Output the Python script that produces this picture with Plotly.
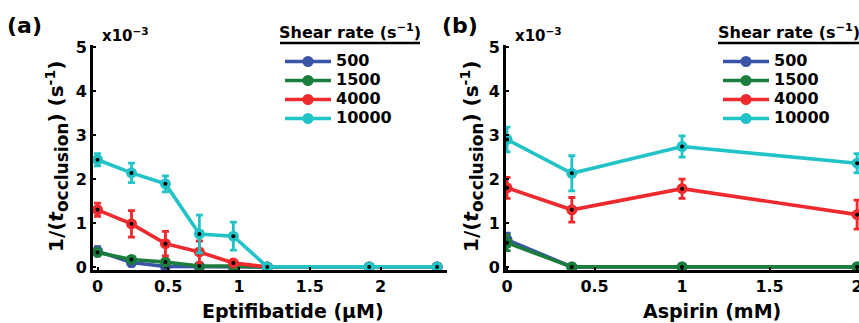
import plotly.graph_objects as go

W, H = 859, 323

# ---------------- data ----------------
series_names = ["500", "1500", "4000", "10000"]
series_colors = ["#3a55a8", "#1b7d3c", "#ee2a2e", "#22c3c6"]

# Panel (a): Eptifibatide (uM)
epti_x = [0, 0.24, 0.48, 0.72, 0.96, 1.2, 1.92, 2.4]
epti_500 = [0.36, 0.10, 0.01, 0.0, 0.0, 0.0, 0.0, 0.0]
epti_500_err = [0.10, 0.08, 0.0, 0.0, 0.0, 0.0, 0.0, 0.0]
epti_1500 = [0.33, 0.17, 0.11, 0.02, 0.02, 0.0, 0.0, 0.0]
epti_1500_err = [0.08, 0.06, 0.04, 0.0, 0.0, 0.0, 0.0, 0.0]
epti_4000 = [1.30, 0.98, 0.53, 0.34, 0.09, 0.0, 0.0, 0.0]
epti_4000_err = [0.15, 0.30, 0.28, 0.25, 0.05, 0.0, 0.0, 0.0]
epti_10000 = [2.44, 2.14, 1.89, 0.75, 0.70, 0.0, 0.0, 0.0]
epti_10000_err = [0.14, 0.22, 0.18, 0.43, 0.32, 0.0, 0.0, 0.0]

# Panel (b): Aspirin (mM)
asp_x = [0, 0.37, 1, 2]
asp_500 = [0.62, 0.0, 0.0, 0.0]
asp_500_err = [0.15, 0.0, 0.0, 0.0]
asp_1500 = [0.55, 0.0, 0.0, 0.0]
asp_1500_err = [0.18, 0.0, 0.0, 0.0]
asp_4000 = [1.80, 1.30, 1.78, 1.19]
asp_4000_err = [0.24, 0.28, 0.22, 0.33]
asp_10000 = [2.90, 2.13, 2.74, 2.36]
asp_10000_err = [0.28, 0.40, 0.24, 0.22]

y_ticks = [0, 1, 2, 3, 4, 5]
epti_ticks = [0, 0.5, 1, 1.5, 2, 2.5]
epti_ticklabels = ["0", "0.5", "1", "1.5", "2", "2.5"]
asp_ticks = [0, 0.5, 1, 1.5, 2]
asp_ticklabels = ["0", "0.5", "1", "1.5", "2"]

FONT = "DejaVu Sans, Liberation Sans, Arial, sans-serif"

fig = go.Figure()

panels = [
    ("x", "y", epti_x,
     [epti_500, epti_1500, epti_4000, epti_10000],
     [epti_500_err, epti_1500_err, epti_4000_err, epti_10000_err], "legend"),
    ("x2", "y2", asp_x,
     [asp_500, asp_1500, asp_4000, asp_10000],
     [asp_500_err, asp_1500_err, asp_4000_err, asp_10000_err], "legend2"),
]

for xa, ya, xs, ys_list, errs, leg in panels:
    for name, col, ys, er in zip(series_names, series_colors, ys_list, errs):
        fig.add_trace(go.Scatter(
            x=xs, y=ys, xaxis=xa, yaxis=ya, mode="lines+markers",
            name="<span style='font-size:16px'>%s</span>" % name,
            legend=leg,
            line=dict(color=col, width=3.6),
            marker=dict(size=11, color=col, line=dict(width=0)),
            error_y=dict(type="data", array=er, visible=True, color=col,
                         thickness=2.8, width=3.5),
            cliponaxis=True,
        ))
        fig.add_trace(go.Scatter(
            x=xs, y=ys, xaxis=xa, yaxis=ya, mode="markers",
            marker=dict(size=4, color="black"), showlegend=False,
            hoverinfo="skip",
        ))


def px(x):
    return x / W


def py(y):
    return 1 - y / H


axis_common = dict(
    showline=True, linecolor="black", linewidth=3, showgrid=False,
    zeroline=False, ticks="inside", ticklen=3, tickwidth=2, tickcolor="black",
    tickfont=dict(family=FONT, size=16, color="black", weight="bold"),
    mirror=False, automargin=False, ticklabeloverflow="allow",
)

fig.update_layout(
    width=W, height=H,
    margin=dict(l=0, r=0, t=0, b=0, autoexpand=False),
    paper_bgcolor="white", plot_bgcolor="white",
    font=dict(family=FONT, color="black", weight="bold"),
    xaxis=dict(domain=[px(93), px(447)], range=[-0.032, 2.47], anchor="y",
               tickvals=epti_ticks, ticktext=epti_ticklabels, **axis_common),
    yaxis=dict(domain=[py(270), py(45)], range=[-0.07, 5.05], anchor="x",
               tickvals=y_ticks, **axis_common),
    xaxis2=dict(domain=[px(506), 1.0], range=[-0.006, 2.011], anchor="y2",
                tickvals=asp_ticks, ticktext=asp_ticklabels, **axis_common),
    yaxis2=dict(domain=[py(270), py(45)], range=[-0.07, 5.05], anchor="x2",
                tickvals=y_ticks, **axis_common),
    legend=dict(x=px(280), y=py(47), xanchor="left", yanchor="top",
                bgcolor="rgba(0,0,0,0)", font=dict(family=FONT, size=12, weight="bold"),
                itemwidth=46, tracegroupgap=0),
    legend2=dict(x=px(718), y=py(47), xanchor="left", yanchor="top",
                 bgcolor="rgba(0,0,0,0)", font=dict(family=FONT, size=12, weight="bold"),
                 itemwidth=46, tracegroupgap=0),
    showlegend=True,
)

ytitle = ("1/(<i>t</i><sub><span style='font-size:17px'>occlusion</span></sub>) "
          "(s<sup>-1</sup>)")
ann = []
for (lab, lx), (ytx), (xtitle, xtx), (legx0, legx1), sciX in [
    (("(a)", 5), 57, ("Eptifibatide (\u03bcM)", 293), (280, 420), 100),
    (("(b)", 440), 472, ("Aspirin (mM)", 712), (718, 859), 513),
]:
    ann.append(dict(text=lab, x=px(lx), y=py(25), xref="paper", yref="paper",
                    xanchor="left", yanchor="middle", showarrow=False,
                    font=dict(family=FONT, size=22, weight="bold")))
    ann.append(dict(text=ytitle, x=px(ytx), y=py(157), xref="paper", yref="paper",
                    xanchor="center", yanchor="middle", showarrow=False, textangle=-90,
                    font=dict(family=FONT, size=20, weight="bold")))
    ann.append(dict(text=xtitle, x=px(xtx), y=py(311), xref="paper", yref="paper",
                    xanchor="center", yanchor="middle", showarrow=False,
                    font=dict(family=FONT, size=19, weight="bold")))
    ann.append(dict(text="Shear rate (s<sup>\u22121</sup>)", x=px((legx0 + legx1) / 2), y=py(31),
                    xref="paper", yref="paper", xanchor="center", yanchor="middle",
                    showarrow=False, font=dict(family=FONT, size=16, weight="bold")))
    ann.append(dict(text="x10<sup>\u22123</sup>", x=px(sciX), y=py(35), xref="paper", yref="paper",
                    xanchor="left", yanchor="middle", showarrow=False,
                    font=dict(family=FONT, size=15, weight="bold")))
    fig.add_shape(type="line", xref="paper", yref="paper",
                  x0=px(legx0), x1=px(legx1), y0=py(43), y1=py(43),
                  line=dict(color="black", width=2.5))

fig.update_layout(annotations=ann)
fig.write_html(
    "out.html",
    config={"displayModeBar": False},
    post_script="document.body.style.margin='0';document.body.style.padding='0';"
                "document.documentElement.style.overflow='hidden';",
)
